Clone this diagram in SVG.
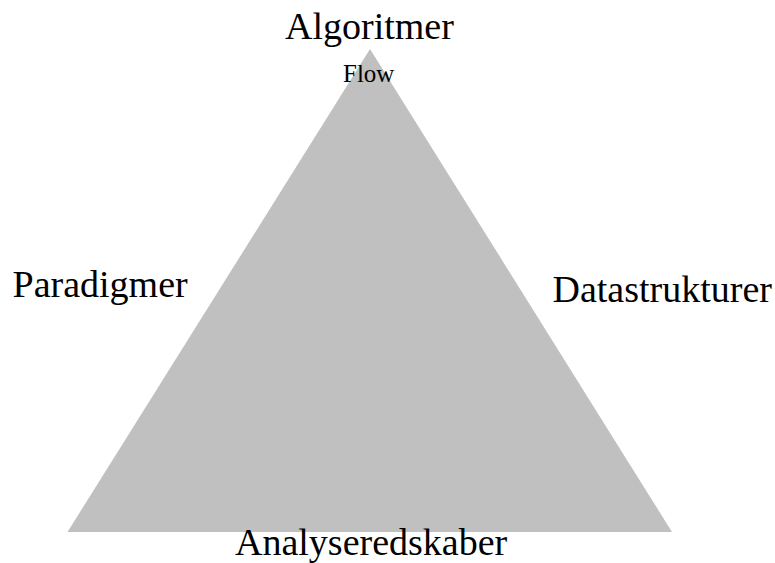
<svg xmlns="http://www.w3.org/2000/svg" width="775" height="563" viewBox="0 0 775 563">
<style>
.lbl{font-family:"Liberation Serif","Times New Roman",serif;font-size:38px;fill:#000}
.sm{font-family:"Liberation Serif","Times New Roman",serif;font-size:25px;fill:#000}
</style>
<rect width="775" height="563" fill="#fff"/>
<g id="triangle">
<polygon points="370,49 672,532 67.5,532" fill="#c0c0c0"/>
</g>
<g id="connectors"></g>
<g id="algoritmer"><text class="lbl" x="285" y="39">Algoritmer</text></g>
<g id="flow"><text class="sm" x="343" y="82">Flow</text></g>
<g id="paradigmer"><text class="lbl" x="12.5" y="297">Paradigmer</text></g>
<g id="datastrukturer"><text class="lbl" x="552.5" y="302">Datastrukturer</text></g>
<g id="analyseredskaber"><text class="lbl" x="235" y="555">Analyseredskaber</text></g>
</svg>
